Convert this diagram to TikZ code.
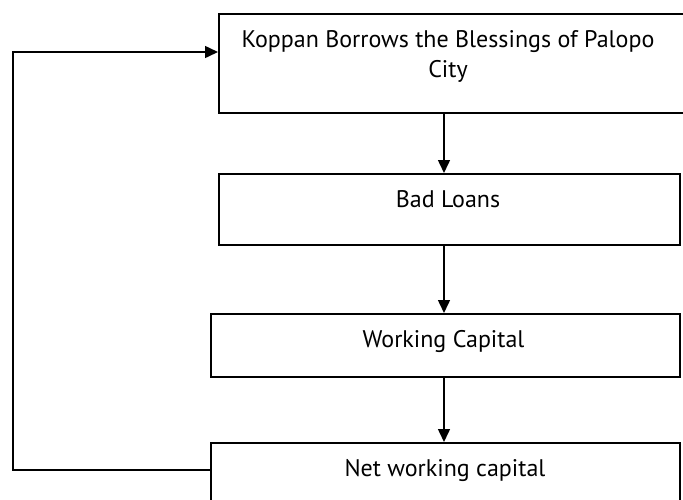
\documentclass[tikz,border=0pt]{standalone}
\usepackage{fontspec}
\setmainfont{PT Sans}
\usetikzlibrary{arrows.meta}
\tikzset{
  boxnode/.style={draw=black, line width=1.5pt, rectangle, inner sep=0pt, anchor=north west},
  txt/.style={anchor=base, inner sep=0pt, font=\fontsize{24}{30}\selectfont},
  conn/.style={line width=1.5pt, -{Triangle[length=13pt,width=12pt]}},
}
\begin{document}
\begin{tikzpicture}[x=1pt,y=-1pt]
\useasboundingbox (0,0) rectangle (683,499);
\clip (0,0) rectangle (683,499);
\node[boxnode, minimum width=480pt, minimum height=99pt] (b1) at (218,13) {};
\node[boxnode, minimum width=461pt, minimum height=71pt] (b2) at (218,173) {};
\node[boxnode, minimum width=469pt, minimum height=63pt] (b3) at (210,313) {};
\node[boxnode, minimum width=469pt, minimum height=70pt] (b4) at (210,442) {};
\node[txt] (t1a) at (448,47) {Koppan Borrows the Blessings of Palopo};
\node[txt] (t1b) at (448,77) {City};
\node[txt] (t2) at (448,207) {Bad Loans};
\node[txt] (t3) at (443.5,347) {Working Capital};
\node[txt] (t4) at (445,476) {Net working capital};
\coordinate (ax) at (444,0);
\coordinate (lb) at (13,470);
\coordinate (lt) at (13,52);
\draw[conn] (b1.south -| ax) -- (b2.north -| ax);
\draw[conn] (b2.south -| ax) -- (b3.north -| ax);
\draw[conn] (b3.south -| ax) -- (b4.north -| ax);
\draw[conn] (b4.west |- lb) -- (lb) -- (lt) -- (b1.west |- lt);
\end{tikzpicture}
\end{document}
